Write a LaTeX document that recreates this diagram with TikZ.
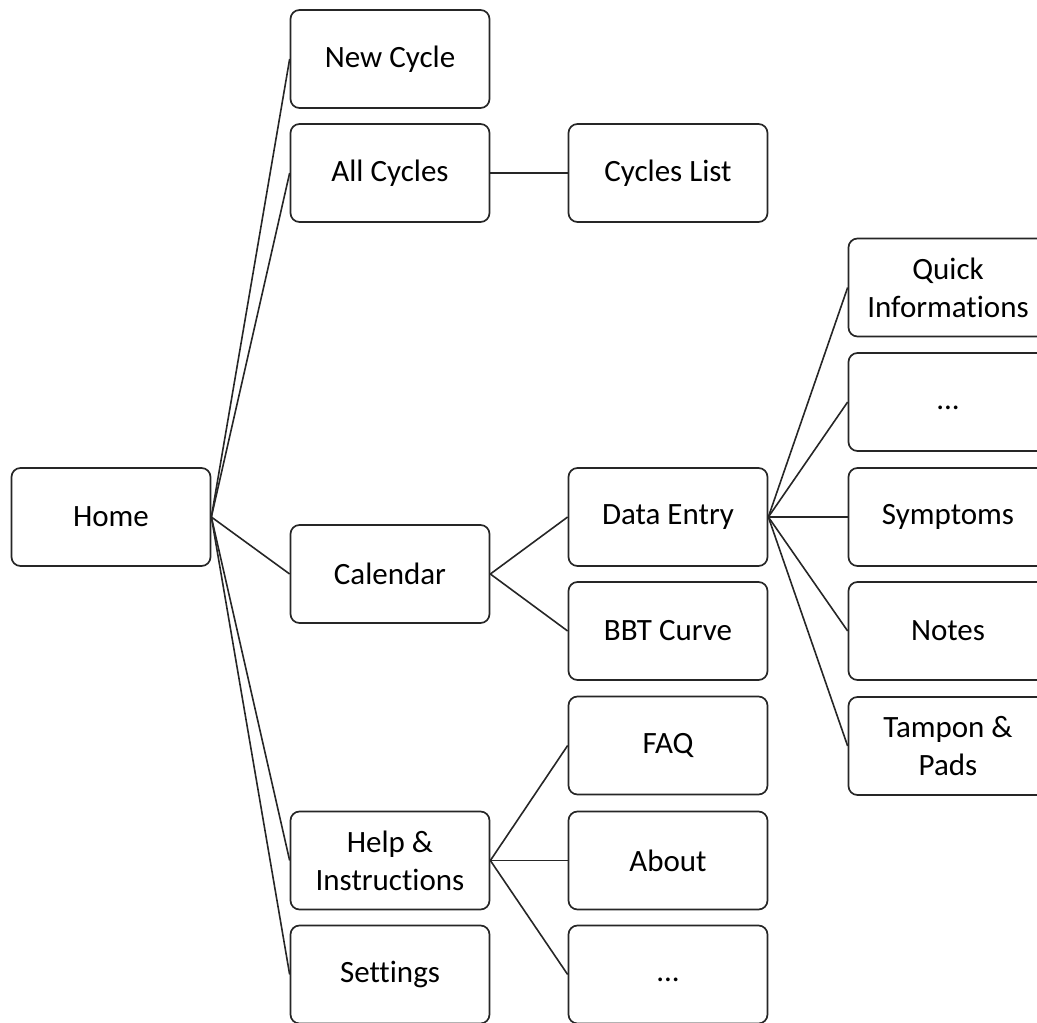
\documentclass[tikz,border=0pt]{standalone}
\usepackage{fontspec}
\setmainfont[Ligatures=NoCommon]{Carlito}
\begin{document}
\begin{tikzpicture}[x=1pt,y=-1pt,
  box/.style={draw=black!85,line width=1.7pt,rounded corners=9pt,minimum width=199pt,minimum height=98pt,
    align=center,inner sep=2pt,font=\fontsize{31}{38}\selectfont,text=black},
  link/.style={draw=black!85,line width=1.6pt}]
\useasboundingbox (0,0) rectangle (1037,1023);
\clip (0,0) rectangle (1037,1023);
\node[box] (home) at (111,517) {Home};
\node[box] (newc) at (390,59) {New Cycle};
\node[box] (allc) at (390,173) {All Cycles};
\node[box] (cal) at (390,574) {Calendar};
\node[box] (help) at (390,860.5) {Help \&\\Instructions};
\node[box] (sett) at (390,974.5) {Settings};
\node[box] (clist) at (668,173) {Cycles List};
\node[box] (data) at (668,517) {Data Entry};
\node[box] (bbt) at (668,631) {BBT Curve};
\node[box] (faq) at (668,745.5) {FAQ};
\node[box] (about) at (668,860.5) {About};
\node[box] (hdots) at (668,974.5) {\vphantom{Ay}...};
\node[box] (quick) at (948,287.5) {Quick\\Informations};
\node[box] (ddots) at (948,402) {\vphantom{Ay}...};
\node[box] (symp) at (948,517) {Symptoms};
\node[box] (notes) at (948,631) {Notes};
\node[box] (tamp) at (948,746) {Tampon \&\\Pads};
\foreach \t in {newc,allc,cal,help,sett} \draw[link] (home.east) -- (\t.west);
\draw[link] (allc.east) -- (clist.west);
\foreach \t in {data,bbt} \draw[link] (cal.east) -- (\t.west);
\foreach \t in {faq,about,hdots} \draw[link] (help.east) -- (\t.west);
\foreach \t in {quick,ddots,symp,notes,tamp} \draw[link] (data.east) -- (\t.west);
\end{tikzpicture}
\end{document}
